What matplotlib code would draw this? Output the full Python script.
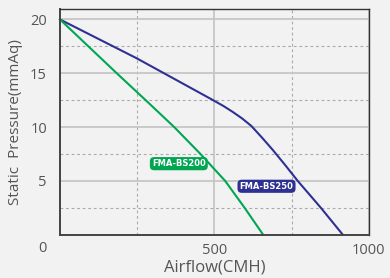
import matplotlib
matplotlib.use("Agg")
import matplotlib.pyplot as plt
from matplotlib.ticker import MultipleLocator

# fan curves
bs250_flow = [0, 248, 442, 496, 530, 560, 590, 620, 655, 690, 730, 770, 845, 916]
bs250_pressure = [20, 16.4, 13.35, 12.5, 11.95, 11.4, 10.8, 10.1, 9.0, 7.85, 6.45, 5.0, 2.5, 0]

bs200_flow = [0, 184, 285, 370, 455, 535, 598, 658]
bs200_pressure = [20, 15, 12.3, 10, 7.5, 5, 2.5, 0]

x_ticks = [0, 500, 1000]
x_tick_labels = ["", "500", "1000"]
y_ticks = [5, 10, 15, 20]

blue = "#2e3192"
green = "#00a651"
bg = "#f2f2f2"
text_col = "#555555"

plt.rcParams['font.family'] = ['Open Sans', 'DejaVu Sans']

fig = plt.figure(figsize=(3.9, 2.78), dpi=100, facecolor=bg)
ax = fig.add_axes([0.1538, 0.1558, 0.7916, 0.8129], facecolor=bg)

ax.set_xlim(0, 1000)
ax.set_ylim(0, 21)

ax.set_xticks(x_ticks)
ax.set_xticklabels(x_tick_labels)
ax.set_yticks(y_ticks)
ax.xaxis.set_minor_locator(MultipleLocator(250))
ax.yaxis.set_minor_locator(MultipleLocator(2.5))

ax.grid(which='major', color='#c6c6c6', linewidth=1.3, linestyle='-')
ax.grid(which='minor', color='#aaaaaa', linewidth=0.8, linestyle=(0, (2.5, 2.5)))
ax.set_axisbelow(True)

ax.tick_params(which='both', length=0)
ax.tick_params(axis='y', pad=9.4, labelsize=10.5, labelcolor=text_col)
ax.tick_params(axis='x', pad=6, labelsize=10.5, labelcolor=text_col)

for side in ['left', 'bottom']:
    ax.spines[side].set_color('#444444')
    ax.spines[side].set_linewidth(1.4)
for side in ['top', 'right']:
    ax.spines[side].set_color('#333333')
    ax.spines[side].set_linewidth(1.0)

ax.plot(bs250_flow, bs250_pressure, color=blue, linewidth=1.5, clip_on=False,
        solid_joinstyle='round')
ax.plot(bs200_flow, bs200_pressure, color=green, linewidth=1.5, clip_on=False,
        solid_joinstyle='round')

# shared origin label
ax.annotate("0", xy=(0, 0), xycoords='axes fraction', xytext=(-9.4, -10),
            textcoords='offset points', ha='right', va='center',
            fontsize=10.5, color=text_col)

ax.text(385, 6.6, "FMA-BS200", color='white', fontsize=6.0, fontweight='bold',
        ha='center', va='center', family=['DejaVu Sans'],
        bbox=dict(boxstyle='round,pad=0.25,rounding_size=0.5', fc=green, ec='none'))
ax.text(669, 4.5, "FMA-BS250", color='white', fontsize=6.0, fontweight='bold',
        ha='center', va='center', family=['DejaVu Sans'],
        bbox=dict(boxstyle='round,pad=0.25,rounding_size=0.5', fc=blue, ec='none'))

ax.set_xlabel("Airflow(CMH)", fontsize=12, color=text_col)
ax.set_ylabel("Static  Pressure(mmAq)", fontsize=11, color=text_col)
ax.xaxis.set_label_coords(0.5, -0.112)
ax.yaxis.set_label_coords(-0.12, 0.499)

fig.savefig("out.png", dpi=100, facecolor=bg)
plt.close(fig)
